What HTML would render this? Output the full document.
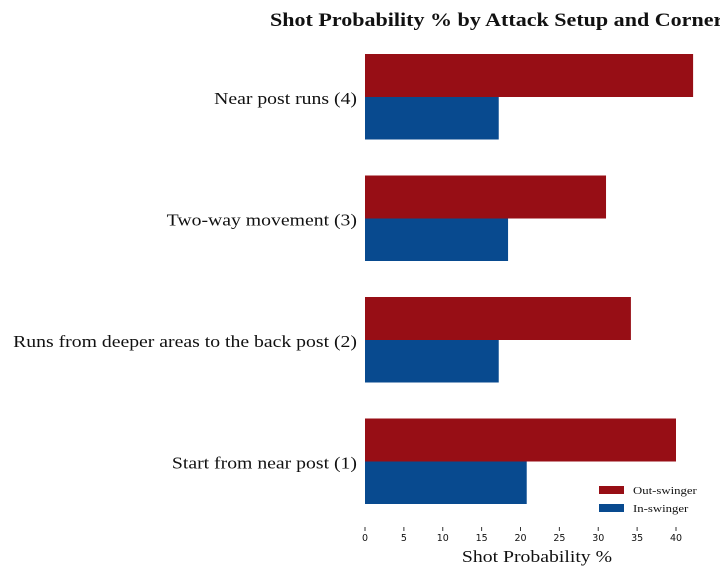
<!DOCTYPE html>
<html><head><meta charset="utf-8"><style>
body{margin:0;background:#fff;width:720px;height:576px;overflow:hidden}
svg text{font-family:"Liberation Serif",serif}
</style></head><body>
<svg id="chart" width="720" height="576">
<text class="wide" x="270" y="26" font-size="19" font-weight="bold" fill="#111">Shot Probability % by Attack Setup and Corner Type</text>
<g id="bars"></g><g id="xaxis"></g>
<text class="wide" x="537" y="562" font-size="17" text-anchor="middle" fill="#111">Shot Probability %</text>
<g>
<rect x="599" y="486" width="25" height="8" fill="#970e15"/>
<text class="wide" x="633" y="494" font-size="11" fill="#111">Out-swinger</text>
<rect x="599" y="504" width="25" height="8" fill="#084a8f"/>
<text class="wide" x="633" y="512" font-size="11" fill="#111">In-swinger</text>
</g>
</svg>
<script>
const categories=["Near post runs (4)","Two-way movement (3)","Runs from deeper areas to the back post (2)","Start from near post (1)"];
const outSwinger=[42.2,31.0,34.2,40.0];
const inSwinger=[17.2,18.4,17.2,20.8];
const ticks=[0,5,10,15,20,25,30,35,40];
const NS="http://www.w3.org/2000/svg";
const x=v=>365+v*7.775;
const yc=i=>97+i*121.5;
const bars=document.getElementById('bars'),xa=document.getElementById('xaxis');
function mk(tag,attrs,parent){const e=document.createElementNS(NS,tag);for(const k in attrs)e.setAttribute(k,attrs[k]);parent.appendChild(e);return e;}
categories.forEach((c,i)=>{
  const r=mk('rect',{x:x(0),y:yc(i)-43,width:x(outSwinger[i])-x(0),height:43,fill:'#970e15'},bars);
  
  
  const b=mk('rect',{x:x(0),y:yc(i),width:x(inSwinger[i])-x(0),height:42.5,fill:'#084a8f'},bars);
  
  
  const t=mk('text',{x:357,y:yc(i)+7,'font-size':17,'text-anchor':'end',fill:'#111','class':'wide'},bars);
  t.textContent=c;
  
  
});
ticks.forEach(v=>{
  const l=mk('line',{x1:x(v),x2:x(v),y1:527,y2:531,stroke:'#333','stroke-width':1},xa);
  
  
  const t=mk('text',{x:x(v),y:541,'font-size':9.5,'text-anchor':'middle',fill:'#111'},xa);
  t.style.fontFamily='"DejaVu Sans",sans-serif';
  t.textContent=v;
  
  
});
document.querySelectorAll('text.wide').forEach(t=>{
  const w=t.getComputedTextLength();
  t.setAttribute('textLength',(w*1.16).toFixed(1));
  t.setAttribute('lengthAdjust','spacingAndGlyphs');
});
</script>
</body></html>
